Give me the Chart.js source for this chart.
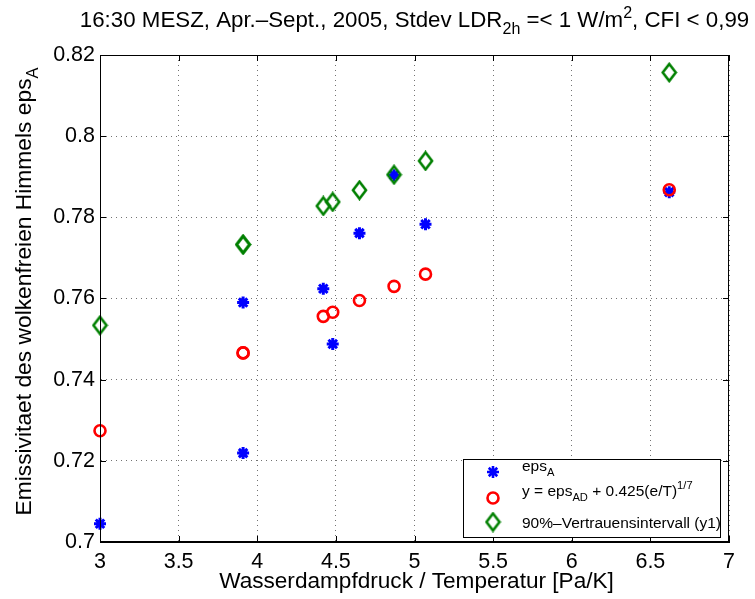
<!DOCTYPE html>
<html>
<head>
<meta charset="utf-8">
<title>Emissivitaet eps_A</title>
<script src="https://cdn.jsdelivr.net/npm/chart.js@4.4.1/dist/chart.umd.min.js"></script>
<style>
  html, body { margin: 0; padding: 0; background: #fff; }
  #wrap { width: 755px; height: 599px; }
</style>
</head>
<body>
<div id="wrap"><canvas id="chart" width="755" height="599"></canvas></div>
<script>
// Water vapour pressure / temperature bins [Pa/K]
var xValues = [3.0, 3.91, 3.91, 4.42, 4.48, 4.65, 4.87, 5.07, 6.62];
// measured clear-sky emissivity eps_A
var epsA = [0.7045, 0.7219, 0.7590, 0.7624, 0.7488, 0.7761, 0.7904, 0.7783, 0.7862];
// model y = eps_AD + 0.425(e/T)^(1/7)
var epsModel = [0.7274, 0.7466, 0.7466, 0.7556, 0.7566, 0.7595, 0.7630, 0.7660, 0.7868];
// 90% confidence interval (y1)
var confUpper = [0.7534, 0.7733, 0.7733, 0.7828, 0.7838, 0.7867, 0.7905, 0.7939, 0.8157];

var xTicks = [3, 3.5, 4, 4.5, 5, 5.5, 6, 6.5, 7];
var xTickLabels = ['3', '3.5', '4', '4.5', '5', '5.5', '6', '6.5', '7'];
var yTicks = [0.7, 0.72, 0.74, 0.76, 0.78, 0.8, 0.82];
var yTickLabels = ['0.7', '0.72', '0.74', '0.76', '0.78', '0.8', '0.82'];

var FONT = '"Liberation Sans", Arial, Helvetica, sans-serif';

function toPoints(ys) {
  return ys.map(function(y, i) { return { x: xValues[i], y: y }; });
}

// MATLAB-like diamond: a bit taller than wide
function makeDiamond(color) {
  var c = document.createElement('canvas');
  c.width = 17; c.height = 21;
  var g = c.getContext('2d');
  g.strokeStyle = color;
  g.lineWidth = 2.6;
  g.lineJoin = 'miter';
  g.beginPath();
  g.moveTo(8.5, 2); g.lineTo(15, 10.5); g.lineTo(8.5, 19); g.lineTo(2, 10.5);
  g.closePath();
  g.stroke();
  return c;
}
var diamondImg = makeDiamond('#008000');

// draws text made of plain / sub / sup pieces
function drawRich(ctx, parts, x, y, size, align) {
  var small = size * 0.72;
  var w = 0;
  parts.forEach(function(p) {
    ctx.font = (p[1] ? small : size) + 'px ' + FONT;
    w += ctx.measureText(p[0]).width;
  });
  var cx = align === 'center' ? x - w / 2 : x;
  parts.forEach(function(p) {
    ctx.font = (p[1] ? small : size) + 'px ' + FONT;
    var dy = p[1] === 'sub' ? size * 0.32 : (p[1] === 'sup' ? -size * 0.42 : 0);
    ctx.fillText(p[0], cx, y + dy);
    cx += ctx.measureText(p[0]).width;
  });
  return w;
}

function marker(ctx, style, radius, color, x, y) {
  ctx.save();
  ctx.strokeStyle = color;
  ctx.fillStyle = 'rgba(0,0,0,0)';
  ctx.lineWidth = 2.6;
  Chart.helpers.drawPoint(ctx, { pointStyle: style, radius: radius, borderWidth: 2.6, rotation: 0 }, x, y);
  ctx.restore();
}

var decorPlugin = {
  id: 'decor',
  afterDraw: function(chart) {
    var ctx = chart.ctx;
    var a = chart.chartArea;
    var xs = chart.scales.x, ys = chart.scales.y;
    ctx.save();

    // box + inward ticks on all four sides
    ctx.strokeStyle = '#000';
    ctx.lineWidth = 1;
    ctx.strokeRect(a.left + 0.5, a.top + 0.5, a.right - a.left - 1, a.bottom - a.top - 1);
    ctx.beginPath();
    xTicks.forEach(function(v) {
      var px = Math.round(xs.getPixelForValue(v)) + 0.5;
      ctx.moveTo(px, a.bottom); ctx.lineTo(px, a.bottom - 6);
      ctx.moveTo(px, a.top); ctx.lineTo(px, a.top + 6);
    });
    yTicks.forEach(function(v) {
      var py = Math.round(ys.getPixelForValue(v)) + 0.5;
      ctx.moveTo(a.left, py); ctx.lineTo(a.left + 6, py);
      ctx.moveTo(a.right, py); ctx.lineTo(a.right - 6, py);
    });
    ctx.stroke();

    ctx.fillStyle = '#000';
    ctx.textBaseline = 'alphabetic';
    ctx.textAlign = 'left';
    var midX = (a.left + a.right) / 2;

    // title
    drawRich(ctx, [
      ['16:30 MESZ, Apr.\u2013Sept., 2005, Stdev LDR', ''], ['2h', 'sub'],
      [' =< 1 W/m', ''], ['2', 'sup'], [', CFI < 0,99', '']
    ], midX, 27, 22.3, 'center');

    // x axis title
    drawRich(ctx, [['Wasserdampfdruck / Temperatur [Pa/K]', '']], midX + 2, 588, 22.6, 'center');

    // y axis title (rotated)
    ctx.save();
    ctx.translate(31, (a.top + a.bottom) / 2 - 7);
    ctx.rotate(-Math.PI / 2);
    drawRich(ctx, [['Emissivitaet des wolkenfreien Himmels eps', ''], ['A', 'sub']], 0, 0, 22.8, 'center');
    ctx.restore();

    // legend
    ctx.fillStyle = '#fff';
    ctx.fillRect(463, 459, 257, 78);
    ctx.strokeStyle = '#000';
    ctx.lineWidth = 1;
    ctx.strokeRect(463.5, 459.5, 257, 78);
    ctx.fillStyle = '#000';
    drawRich(ctx, [['eps', ''], ['A', 'sub']], 522, 471, 15.5, 'left');
    drawRich(ctx, [['y = eps', ''], ['AD', 'sub'], [' + 0.425(e/T)', ''], ['1/7', 'sup']], 522, 496, 15.5, 'left');
    drawRich(ctx, [['90%\u2013Vertrauensintervall (y1)', '']], 522, 528, 15.5, 'left');
    marker(ctx, 'star', 6, '#0000ff', 493, 472);
    marker(ctx, 'circle', 5.5, '#ff0000', 493, 498);
    marker(ctx, diamondImg, 7, '#008000', 493, 522);

    ctx.restore();
  }
};

var tickFont = { family: FONT, size: 21.5 };
var gridOpts = { color: 'rgba(0,0,0,0.55)', lineWidth: 1, drawTicks: false };

new Chart(document.getElementById('chart').getContext('2d'), {
  type: 'scatter',
  data: {
    datasets: [
      {
        label: 'eps_A',
        data: toPoints(epsA),
        pointStyle: 'star',
        pointRadius: 6,
        borderWidth: 3,
        borderColor: '#0000ff',
        backgroundColor: '#0000ff',
        clip: false,
        order: 3
      },
      {
        label: 'y = eps_AD + 0.425(e/T)^1/7',
        data: toPoints(epsModel),
        pointStyle: 'circle',
        pointRadius: 5.5,
        borderWidth: 2.6,
        borderColor: '#ff0000',
        backgroundColor: 'rgba(0,0,0,0)',
        clip: false,
        order: 2
      },
      {
        label: '90%-Vertrauensintervall (y1)',
        data: toPoints(confUpper),
        pointStyle: diamondImg,
        pointRadius: 8,
        borderWidth: 2.6,
        borderColor: '#008000',
        backgroundColor: 'rgba(0,0,0,0)',
        clip: false,
        order: 1
      }
    ]
  },
  options: {
    responsive: false,
    animation: false,
    layout: { padding: { top: 55, right: 26, bottom: 0, left: 0 } },
    plugins: {
      legend: { display: false },
      title: { display: false },
      tooltip: { enabled: false }
    },
    scales: {
      x: {
        type: 'linear',
        min: 3,
        max: 7,
        afterBuildTicks: function(s) { s.ticks = xTicks.map(function(v) { return { value: v }; }); },
        afterFit: function(s) { s.height = 57; },
        ticks: {
          font: tickFont,
          color: '#000',
          padding: 7,
          maxRotation: 0,
          callback: function(v, i) { return xTickLabels[i]; }
        },
        grid: gridOpts,
        border: { display: true, color: '#000', width: 1, dash: [1, 4] }
      },
      y: {
        type: 'linear',
        min: 0.7,
        max: 0.82,
        afterBuildTicks: function(s) { s.ticks = yTicks.map(function(v) { return { value: v }; }); },
        afterFit: function(s) { s.width = 100; },
        ticks: {
          font: tickFont,
          color: '#000',
          padding: 5,
          callback: function(v, i) { return yTickLabels[i]; }
        },
        grid: gridOpts,
        border: { display: true, color: '#000', width: 1, dash: [1, 4] }
      }
    }
  },
  plugins: [decorPlugin]
});
</script>
</body>
</html>
